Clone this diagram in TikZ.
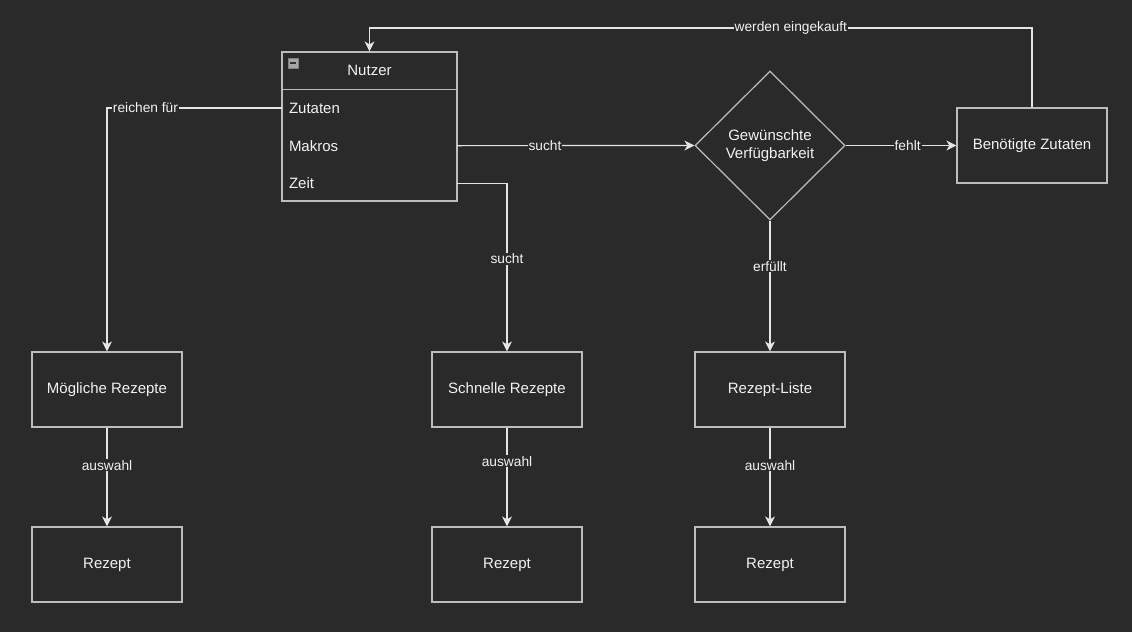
\documentclass[tikz,border=0pt]{standalone}
\usepackage{fontspec}
\setmainfont{Liberation Sans}
\usepackage{tikz}
\usetikzlibrary{arrows.meta,shapes.geometric}
\definecolor{BgColor}{HTML}{2A2A2A}
\definecolor{BoxColor}{HTML}{BDBDBD}
\definecolor{EdgeColor}{HTML}{E4E4E4}
\definecolor{TxtColor}{HTML}{F2F2F2}
\newcommand{\bw}{150pt}
\newcommand{\bh}{75pt}
\tikzset{
    box/.style={draw=BoxColor,line width=1.2pt,minimum width=\bw,minimum height=\bh,inner sep=0pt,text=TxtColor,font=\fontsize{15}{17}\selectfont},
    row/.style={minimum width=175pt,minimum height=37.3pt,text width=161pt,inner xsep=7pt,inner ysep=0pt,align=left,text=TxtColor,font=\fontsize{15}{17}\selectfont},
    edge/.style={draw=EdgeColor,line width=1.2pt,-{Stealth[length=10pt,width=10pt,inset=3pt]}},
    lbl/.style={fill=BgColor,text=TxtColor,inner sep=1pt,font=\fontsize{13.75}{15}\selectfont}
}
\begin{document}
\begin{tikzpicture}[x=1pt,y=-1pt]
    \fill[BgColor] (0,0) rectangle (1132,632);    % Background and frame
    % --- --- --- Nutzer
    \node[draw=BoxColor,line width=1.2pt,minimum width=175pt,minimum height=149pt,inner sep=0pt] (nutzer) at (369.5,126.5) {};
    \node[row,anchor=north,align=center] (kopf) at (nutzer.north) {Nutzer};
    \draw[BoxColor,line width=1.2pt] (kopf.south west) -- (kopf.south east);
    \node[row,anchor=north] (zutaten) at (kopf.south) {Zutaten};
    \node[row,anchor=north] (makros) at (zutaten.south) {Makros};
    \node[row,anchor=north] (zeit) at (makros.south) {Zeit};
    \node[draw=gray,fill=gray!70!white,minimum size=10pt,inner sep=0pt] (knopf) at (293,63) {};
    \draw[black!80,line width=1.5pt] ([xshift=-3pt]knopf.center) -- ([xshift=3pt]knopf.center);
    % --- --- --- Decision
    \node[diamond,aspect=1,draw=BoxColor,line width=1.2pt,minimum width=150pt,minimum height=149pt,inner sep=0pt,align=center,text=TxtColor,font=\fontsize{15}{18}\selectfont] (wunsch) at (770,145.5) {Gewünschte\\Verfügbarkeit};
    \node[box] (benoetigt) at (1032,145.5) {Benötigte Zutaten};
    % --- --- --- Rezepte
    \node[box] (moeglich) at (107,389.5) {Mögliche Rezepte};
    \node[box] (schnell) at (507,389.5) {Schnelle Rezepte};
    \node[box] (liste) at (770,389.5) {Rezept-Liste};
    \node[box] (rezeptA) at (107,564.5) {Rezept};
    \node[box] (rezeptB) at (507,564.5) {Rezept};
    \node[box] (rezeptC) at (770,564.5) {Rezept};
    % === === === Edges
    \draw[edge] (zutaten.west) -| node[lbl,pos=0.39] {reichen für} (moeglich.north);
    \draw[edge] (zeit.east) -| node[lbl,pos=0.725] {sucht} (schnell.north);
    \draw[edge] (makros.east) -- node[lbl,pos=0.37] {sucht} (wunsch.west);
    \draw[edge] (wunsch.east) -- node[lbl,pos=0.56] {fehlt} (benoetigt.west);
    \draw[edge] (wunsch.south) -- node[lbl,pos=0.35] {erfüllt} (liste.north);
    \draw[edge] (moeglich.south) -- node[lbl,pos=0.38] {auswahl} (rezeptA.north);
    \draw[edge] (schnell.south) -- node[lbl,pos=0.34] {auswahl} (rezeptB.north);
    \draw[edge] (liste.south) -- node[lbl,pos=0.38] {auswahl} (rezeptC.north);
    \coordinate (kauf) at (1032,28);
    \draw[edge] (benoetigt.north) -- (kauf) -| node[lbl,pos=0.182] {werden eingekauft} (nutzer.north);
\end{tikzpicture}
\end{document}
